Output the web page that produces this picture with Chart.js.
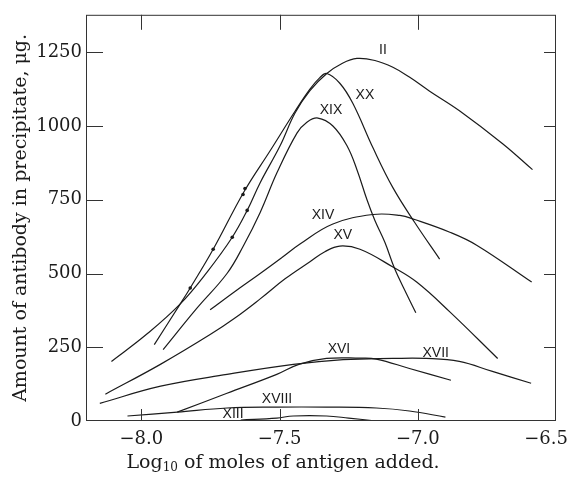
<!DOCTYPE html>
<html>
<head>
<meta charset="utf-8">
<script src="https://cdn.jsdelivr.net/npm/chart.js@4.4.0/dist/chart.umd.min.js"></script>
<style>
    html, body { margin: 0; padding: 0; background: #fff; }
    canvas { display: block; }
</style>
</head>
<body>
<canvas id="chart" width="570" height="479"></canvas>
<script>
// log10 of moles of antigen added (x) and antibody in precipitate, ug (y), one pair per serum
const logII = [-8.108, -7.982, -7.859, -7.762, -7.671, -7.617, -7.570, -7.498, -7.444, -7.390, -7.329, -7.274, -7.220, -7.155, -7.090, -7.029, -6.957, -6.848, -6.693, -6.585];
const amountII = [202, 293, 397, 505, 623, 714, 808, 933, 1044, 1120, 1178, 1212, 1229, 1222, 1199, 1165, 1118, 1051, 940, 852];

const logXX = [-7.953, -7.859, -7.823, -7.740, -7.628, -7.534, -7.444, -7.390, -7.355, -7.329, -7.282, -7.235, -7.162, -7.090, -7.011, -6.921];
const amountXX = [259, 397, 451, 582, 778, 916, 1050, 1125, 1163, 1178, 1145, 1077, 926, 791, 673, 549];

const logXIX = [-7.921, -7.801, -7.690, -7.630, -7.570, -7.509, -7.437, -7.401, -7.361, -7.307, -7.256, -7.220, -7.184, -7.155, -7.119, -7.083, -7.040, -7.007];
const amountXIX = [242, 380, 500, 595, 707, 842, 976, 1013, 1027, 1000, 933, 852, 751, 680, 606, 515, 430, 367];

const logXIV = [-7.751, -7.660, -7.570, -7.490, -7.426, -7.307, -7.162, -7.065, -7.011, -6.884, -6.787, -6.588];
const amountXIV = [377, 440, 500, 555, 600, 668, 700, 697, 683, 640, 596, 471];

const logXV = [-8.130, -7.931, -7.751, -7.660, -7.570, -7.480, -7.390, -7.336, -7.282, -7.209, -7.090, -7.004, -6.884, -6.711];
const amountXV = [91, 192, 293, 350, 414, 482, 540, 574, 593, 582, 522, 471, 370, 212];

const logXVI = [-7.87, -7.69, -7.51, -7.43, -7.33, -7.21, -7.15, -7.03, -6.88];
const amountXVI = [30, 94, 158, 192, 212, 213, 210, 178, 138];

const logXVII = [-8.15, -7.93, -7.69, -7.45, -7.27, -7.09, -6.97, -6.85, -6.73, -6.59];
const amountXVII = [60, 118, 158, 192, 208, 212, 212, 202, 168, 128];

const logXVIII = [-8.05, -7.87, -7.69, -7.51, -7.33, -7.15, -7.03, -6.90];
const amountXVIII = [17, 30, 44, 47, 47, 44, 34, 13];

const logXIII = [-7.64, -7.51, -7.45, -7.33, -7.25, -7.15];
const amountXIII = [3, 10, 17, 17, 10, 0];

// plotted experimental points on the steep sides
const dotLogXX = [-7.823, -7.740, -7.632, -7.625];
const dotAmountXX = [451, 582, 768, 788];
const dotLogII = [-7.671, -7.617];
const dotAmountII = [623, 714];

// curve names written next to the curves (data units)
const curveNames = ['II', 'XX', 'XIX', 'XIV', 'XV', 'XVI', 'XVII', 'XVIII', 'XIII'];
const nameLog = [-7.126, -7.191, -7.314, -7.343, -7.271, -7.285, -6.935, -7.509, -7.668];
const nameAmount = [1256, 1104, 1054, 697, 630, 242, 229, 74, 24];

// axes
const xTicks = [-8.0, -7.5, -7.0, -6.5];
const xTickLabels = ['\u22128.0', '\u22127.5', '\u22127.0', '\u22126.5'];
const yTicks = [0, 250, 500, 750, 1000, 1250];

const ink = '#1b1b1b';
const serif = '"DejaVu Serif", serif';

const toPoints = (xs, ys) => xs.map((x, i) => ({ x: x, y: ys[i] }));

const curve = (xs, ys) => ({
    type: 'line',
    data: toPoints(xs, ys),
    borderColor: ink,
    borderWidth: 1.2,
    pointRadius: 0,
    fill: false,
    tension: 0.4
});

const dots = (xs, ys) => ({
    type: 'scatter',
    data: toPoints(xs, ys),
    pointRadius: 1.8,
    pointBackgroundColor: ink,
    pointBorderWidth: 0,
    showLine: false
});

// frame, inward tick marks, x tick labels, x title and curve names
const decorations = {
    id: 'decorations',
    afterDraw(chart) {
        const { ctx, chartArea: a, scales: { x, y } } = chart;
        ctx.save();
        ctx.strokeStyle = '#333';
        ctx.lineWidth = 1;
        ctx.strokeRect(a.left + 0.5, a.top + 0.5, a.width - 1, a.height - 1);

        ctx.beginPath();
        yTicks.forEach(v => {
            if (v === 0) return;
            const py = Math.round(y.getPixelForValue(v)) + 0.5;
            ctx.moveTo(a.left, py); ctx.lineTo(a.left + 17, py);
            ctx.moveTo(a.right, py); ctx.lineTo(a.right - 12, py);
        });
        xTicks.forEach(v => {
            const px = Math.round(x.getPixelForValue(v)) + 0.5;
            if (px > a.right - 2) return;
            ctx.moveTo(px, a.top); ctx.lineTo(px, a.top + 15);
            ctx.moveTo(px, a.bottom); ctx.lineTo(px, a.bottom - 12);
        });
        ctx.stroke();

        // x tick labels, kept inside the canvas
        ctx.fillStyle = ink;
        ctx.font = '18px ' + serif;
        ctx.textAlign = 'center';
        ctx.textBaseline = 'middle';
        xTicks.forEach((v, i) => {
            const w = ctx.measureText(xTickLabels[i]).width;
            let px = x.getPixelForValue(v);
            px = Math.min(px, chart.width - 2 - w / 2);
            ctx.fillText(xTickLabels[i], px, a.bottom + 18);
        });

        // x axis title with subscript 10
        const parts = [['Log', 19, 0], ['10', 12, 5], [' of moles of antigen added.', 19, 0]];
        let total = 0;
        parts.forEach(p => { ctx.font = p[1] + 'px ' + serif; total += ctx.measureText(p[0]).width; });
        let tx = 283 - total / 2;
        ctx.textAlign = 'left';
        parts.forEach(p => {
            ctx.font = p[1] + 'px ' + serif;
            ctx.fillText(p[0], tx, 463 + p[2]);
            tx += ctx.measureText(p[0]).width;
        });

        // curve names
        ctx.font = '14px "Liberation Sans", sans-serif';
        ctx.textAlign = 'center';
        curveNames.forEach((name, i) => {
            ctx.fillText(name, x.getPixelForValue(nameLog[i]), y.getPixelForValue(nameAmount[i]));
        });
        ctx.restore();
    }
};

new Chart(document.getElementById('chart').getContext('2d'), {
    data: {
        datasets: [
            curve(logII, amountII),
            curve(logXX, amountXX),
            curve(logXIX, amountXIX),
            curve(logXIV, amountXIV),
            curve(logXV, amountXV),
            curve(logXVI, amountXVI),
            curve(logXVII, amountXVII),
            curve(logXVIII, amountXVIII),
            curve(logXIII, amountXIII),
            dots(dotLogXX, dotAmountXX),
            dots(dotLogII, dotAmountII)
        ]
    },
    options: {
        responsive: false,
        animation: false,
        layout: { padding: { top: 11, right: 14, left: 0, bottom: 0 } },
        plugins: {
            legend: { display: false },
            tooltip: { enabled: false }
        },
        scales: {
            x: {
                type: 'linear',
                min: -8.2,
                max: -6.5,
                grid: { display: false, drawTicks: false },
                border: { display: false },
                ticks: { display: false },
                afterFit: s => { s.height = 58; }
            },
            y: {
                type: 'linear',
                min: 0,
                max: 1377,
                grid: { display: false, drawTicks: false },
                border: { display: false },
                afterBuildTicks: s => { s.ticks = yTicks.map(v => ({ value: v })); },
                ticks: {
                    color: ink,
                    padding: 4,
                    font: { family: 'DejaVu Serif', size: 18 },
                    callback: v => String(v)
                },
                title: {
                    display: true,
                    text: 'Amount of antibody in precipitate, \u03bcg.',
                    color: ink,
                    font: { family: 'DejaVu Serif', size: 19 },
                    padding: { top: 10, bottom: 0 }
                },
                afterFit: s => { s.width = 86; }
            }
        }
    },
    plugins: [decorations]
});
</script>
</body>
</html>
